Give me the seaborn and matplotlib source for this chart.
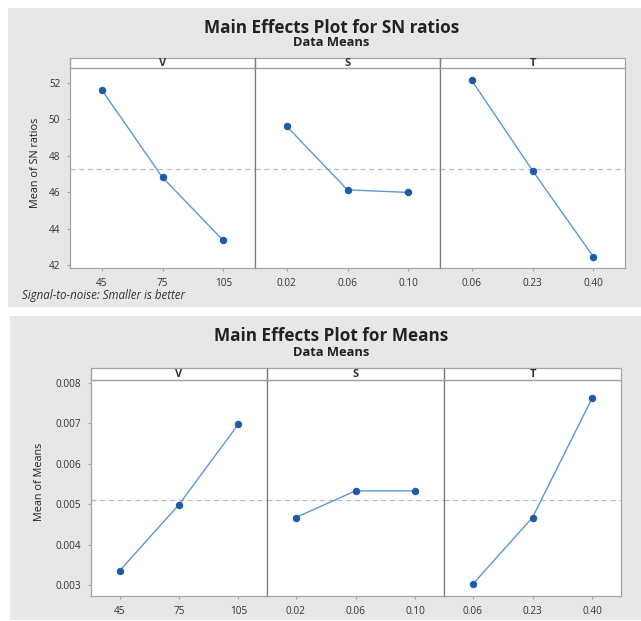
import numpy as np
import pandas as pd
import matplotlib
matplotlib.use('Agg')
import matplotlib.pyplot as plt
from matplotlib.patches import Rectangle
import seaborn as sns

# factor levels
factors = ['V', 'S', 'T']
levels = {'V': ['45', '75', '105'],
          'S': ['0.02', '0.06', '0.10'],
          'T': ['0.06', '0.23', '0.40']}

# mean of SN ratios per level
sn_V = [51.63, 46.81, 43.35]
sn_S = [49.62, 46.13, 45.99]
sn_T = [52.15, 47.19, 42.46]

# mean of means per level
mn_V = [0.00335, 0.00499, 0.00698]
mn_S = [0.00467, 0.00533, 0.00533]
mn_T = [0.00302, 0.00467, 0.00763]

sn_ticks = [42, 44, 46, 48, 50, 52]
mn_ticks = [0.003, 0.004, 0.005, 0.006, 0.007, 0.008]

sns.set_style('white')
plt.rcParams['font.family'] = ['Open Sans', 'DejaVu Sans']

W, H = 641, 621
fig = plt.figure(figsize=(W / 100, H / 100), dpi=100)
fig.patch.set_facecolor('white')

bg = '#e7e7e7'
frame = '#a3a3a3'
divider = '#7a7a7a'
line_c = '#5f97d6'
dot_c = '#1f5aa8'
txt_c = '#333333'

# grey panels behind each plot
fig.patches.append(Rectangle((8 / W, 1 - 307 / H), (W - 8) / W, 299 / H,
                             transform=fig.transFigure, facecolor=bg, edgecolor='none', zorder=-10))
fig.patches.append(Rectangle((10 / W, 1 - 620 / H), (W - 10) / W, 304 / H,
                             transform=fig.transFigure, facecolor=bg, edgecolor='none', zorder=-10))


def px_axes(x0, x1, y0, y1):
    return fig.add_axes([x0 / W, 1 - y1 / H, (x1 - x0) / W, (y1 - y0) / H])


def draw_block(data, xs, y0, y1, strip_h, ylim, yticks, yfmt, ylabel, ylab_x, ylab_y, pad):
    axes = []
    mean_val = np.mean(np.concatenate([data[f] for f in factors]))
    for i, f in enumerate(factors):
        ax = px_axes(xs[i], xs[i + 1], y0, y1)
        df = pd.DataFrame({'level': levels[f], 'value': data[f]})
        ax.axhline(mean_val, color='#bdbdbd', lw=0.9, ls=(0, (4, 3)), zorder=1)
        sns.lineplot(data=df, x='level', y='value', sort=False, ax=ax,
                     color=line_c, lw=1.0, marker='o', markersize=4.6,
                     markerfacecolor=dot_c, markeredgecolor=dot_c, zorder=3)
        ax.set_xlim(-pad, 2 + pad)
        ax.set_ylim(*ylim)
        ax.set_xlabel('')
        ax.set_ylabel('')
        ax.set_facecolor('white')
        for s in ax.spines.values():
            s.set_color(frame)
            s.set_linewidth(0.9)
        if i > 0:
            ax.spines['left'].set_color(divider)
        if i < 2:
            ax.spines['right'].set_color(divider)
        ax.tick_params(axis='x', length=2, color=frame, labelsize=7.2,
                       labelcolor=txt_c, pad=5, bottom=True)
        ax.set_yticks(yticks)
        if i == 0:
            ax.set_yticklabels([yfmt(v) for v in yticks])
            ax.tick_params(axis='y', length=2, color=frame, labelsize=7.2,
                           labelcolor=txt_c, pad=5, left=True)
        else:
            ax.tick_params(axis='y', left=False, labelleft=False)
        # strip on top of each panel
        h = strip_h / (y1 - y0)
        ax.add_patch(Rectangle((0, 1), 1, h, transform=ax.transAxes, clip_on=False,
                               facecolor='white', edgecolor=frame, lw=0.9))
        ax.plot([0, 0], [1, 1 + h], transform=ax.transAxes, clip_on=False,
                color=divider if i > 0 else frame, lw=0.9)
        ax.text(0.5, 1 + h / 2, f, transform=ax.transAxes, ha='center', va='center',
                fontsize=8, fontweight='bold', color='#333333')
        axes.append(ax)
    fig.text(ylab_x / W, 1 - ylab_y / H, ylabel, rotation=90, ha='center',
             va='center', fontsize=7.8, color='#222222')
    return axes


sn = {'V': sn_V, 'S': sn_S, 'T': sn_T}
mn = {'V': mn_V, 'S': mn_S, 'T': mn_T}

draw_block(sn, [70, 255, 440, 625], 68, 268, 10, (41.84, 52.82), sn_ticks,
           lambda v: f'{v:d}', 'Mean of SN ratios', 35, 163, 0.52)
draw_block(mn, [91, 267, 444, 621], 380, 596, 12, (0.00273, 0.00807), mn_ticks,
           lambda v: f'{v:.3f}', 'Mean of Means', 39, 482, 0.48)

fig.text(332 / W, 1 - 28 / H, 'Main Effects Plot for SN ratios', ha='center', va='center',
         fontsize=12.3, fontweight='bold', color='#222222')
fig.text(331 / W, 1 - 42 / H, 'Data Means', ha='center', va='center',
         fontsize=9.3, fontweight='bold', color='#222222')
fig.text(22 / W, 1 - 296 / H, 'Signal-to-noise: Smaller is better', ha='left', va='center',
         fontsize=8.3, style='italic', color='#333333')

fig.text(331 / W, 1 - 336 / H, 'Main Effects Plot for Means', ha='center', va='center',
         fontsize=12.3, fontweight='bold', color='#222222')
fig.text(331 / W, 1 - 352 / H, 'Data Means', ha='center', va='center',
         fontsize=9.3, fontweight='bold', color='#222222')

fig.savefig('out.png', dpi=100, facecolor='white')
